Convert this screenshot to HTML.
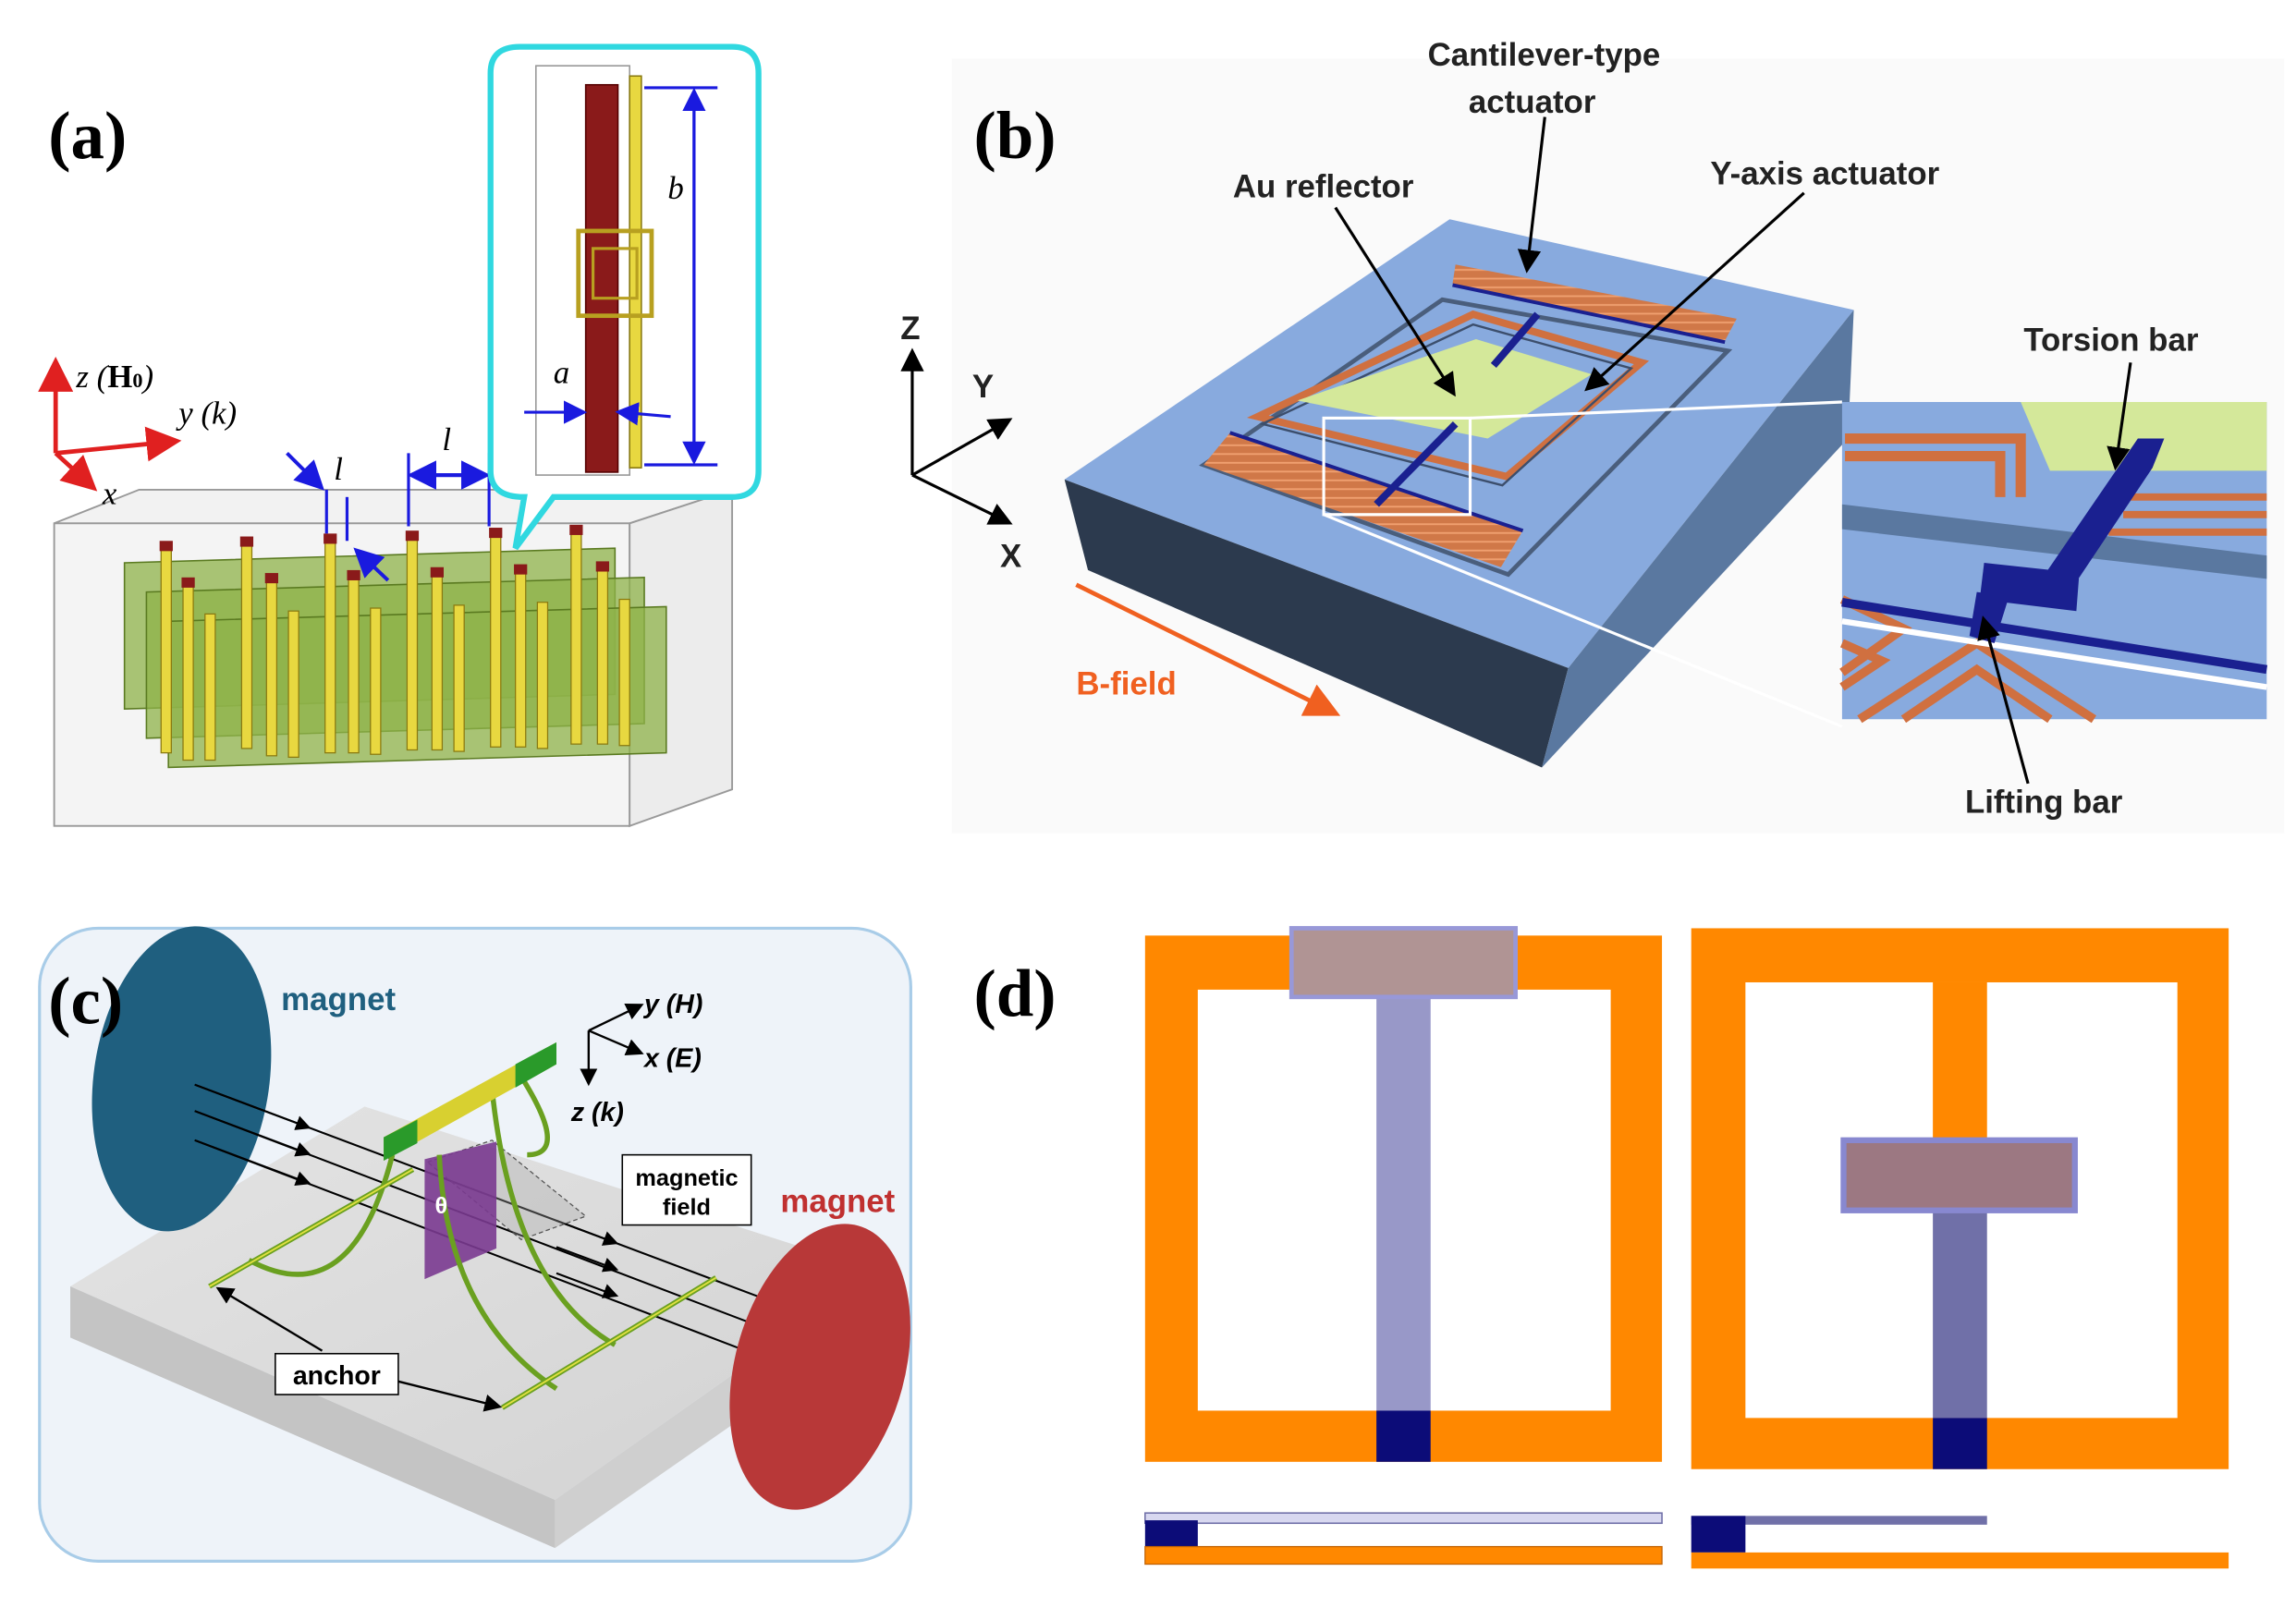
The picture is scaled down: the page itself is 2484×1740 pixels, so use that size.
<!DOCTYPE html>
<html><head><meta charset="utf-8"><style>
html,body{margin:0;padding:0;background:#fff;}
svg{display:block}
.lb{font-family:"Liberation Serif",serif;font-weight:bold;font-size:46px}
.sa{font-family:"Liberation Sans",sans-serif;font-weight:bold}
.it{font-family:"Liberation Serif",serif;font-style:italic}
</style></head><body>
<svg width="2484" height="1740" viewBox="0 0 1568 1100" preserveAspectRatio="none" xmlns="http://www.w3.org/2000/svg">
<defs>
<marker id="ab" markerWidth="8" markerHeight="8" refX="6" refY="4" orient="auto"><path d="M0,0 L8,4 L0,8 z" fill="#1a1adf"/></marker>
<marker id="ar" markerWidth="8" markerHeight="8" refX="6" refY="4" orient="auto"><path d="M0,0 L8,4 L0,8 z" fill="#e02020"/></marker>
<marker id="ak" markerWidth="8" markerHeight="8" refX="6" refY="4" orient="auto"><path d="M0,0 L8,4 L0,8 z" fill="#000"/></marker>
<marker id="ao" markerWidth="8" markerHeight="8" refX="6" refY="4" orient="auto"><path d="M0,0 L8,4 L0,8 z" fill="#f06020"/></marker>
<linearGradient id="gs" x1="0" y1="0" x2="1" y2="1"><stop offset="0" stop-color="#e4e4e4"/><stop offset="1" stop-color="#d2d2d2"/></linearGradient>
<pattern id="coil" width="6" height="6" patternUnits="userSpaceOnUse"><rect width="6" height="6" fill="#d07848"/><rect y="4" width="6" height="1.2" fill="#f0a070"/></pattern>
</defs>

<!-- (a) -->
<text x="33" y="108" class="lb">(a)</text>
<g stroke="#999" fill="none" stroke-width="1.2">
<polygon points="37,358 95,335 500,335 430,358" fill="#f2f2f2"/>
<rect x="37" y="358" width="393" height="207" fill="#f4f4f4"/>
<polygon points="430,358 500,335 500,540 430,565" fill="#ececec"/>
</g>
<g fill="#8fb34a" fill-opacity="0.75" stroke="#5a7a20">
<polygon points="85,385 420,375 420,475 85,485"/>
<polygon points="100,405 440,395 440,495 100,505"/>
<polygon points="115,425 455,415 455,515 115,525"/>
</g>
<g fill="#e8d840" stroke="#8a7a10" stroke-width="0.8">
<rect x="110" y="375" width="7" height="140"/><rect x="165" y="372" width="7" height="140"/><rect x="222" y="370" width="7" height="145"/><rect x="278" y="368" width="7" height="145"/><rect x="335" y="366" width="7" height="145"/><rect x="390" y="364" width="7" height="145"/>
<rect x="125" y="400" width="7" height="120"/><rect x="182" y="397" width="7" height="120"/><rect x="238" y="395" width="7" height="120"/><rect x="295" y="393" width="7" height="120"/><rect x="352" y="391" width="7" height="120"/><rect x="408" y="389" width="7" height="120"/>
<rect x="140" y="420" width="7" height="100"/><rect x="197" y="418" width="7" height="100"/><rect x="253" y="416" width="7" height="100"/><rect x="310" y="414" width="7" height="100"/><rect x="367" y="412" width="7" height="100"/><rect x="423" y="410" width="7" height="100"/>
</g>
<g fill="#8a1a1a">
<rect x="109" y="370" width="9" height="7"/><rect x="164" y="367" width="9" height="7"/><rect x="221" y="365" width="9" height="7"/><rect x="277" y="363" width="9" height="7"/><rect x="334" y="361" width="9" height="7"/><rect x="389" y="359" width="9" height="7"/>
<rect x="124" y="395" width="9" height="7"/><rect x="181" y="392" width="9" height="7"/><rect x="237" y="390" width="9" height="7"/><rect x="294" y="388" width="9" height="7"/><rect x="351" y="386" width="9" height="7"/><rect x="407" y="384" width="9" height="7"/>
</g>
<line x1="38" y1="310" x2="38" y2="250" stroke="#e02020" stroke-width="3" marker-end="url(#ar)"/>
<line x1="38" y1="310" x2="118" y2="302" stroke="#e02020" stroke-width="3" marker-end="url(#ar)"/>
<line x1="38" y1="310" x2="62" y2="332" stroke="#e02020" stroke-width="3" marker-end="url(#ar)"/>
<text x="52" y="265" class="it" font-size="22">z (<tspan font-weight="bold" font-style="normal">H</tspan><tspan font-size="14" font-weight="bold" font-style="normal">0</tspan>)</text>
<text x="122" y="290" class="it" font-size="22">y (k)</text>
<text x="70" y="345" class="it" font-size="22">x</text>
<line x1="196" y1="310" x2="218" y2="332" stroke="#1a1adf" stroke-width="2.5" marker-end="url(#ab)"/>
<line x1="223" y1="335" x2="223" y2="365" stroke="#1a1adf" stroke-width="2"/>
<line x1="237" y1="340" x2="237" y2="370" stroke="#1a1adf" stroke-width="2"/>
<line x1="265" y1="397" x2="245" y2="378" stroke="#1a1adf" stroke-width="2.5" marker-end="url(#ab)"/>
<text x="228" y="328" class="it" font-size="22">l</text>
<line x1="279" y1="310" x2="279" y2="360" stroke="#1a1adf" stroke-width="2"/>
<line x1="334" y1="310" x2="334" y2="360" stroke="#1a1adf" stroke-width="2"/>
<line x1="283" y1="325" x2="330" y2="325" stroke="#1a1adf" stroke-width="2.5" marker-end="url(#ab)"/>
<line x1="330" y1="325" x2="283" y2="325" stroke="#1a1adf" stroke-width="2.5" marker-end="url(#ab)"/>
<text x="302" y="308" class="it" font-size="22">l</text>
<path d="M355,32 H500 Q518,32 518,50 V322 Q518,340 500,340 H378 L352,375 L358,340 Q335,340 335,322 V50 Q335,32 355,32 Z" fill="#fff" stroke="#30d8e0" stroke-width="4"/>
<polygon points="366,45 430,45 430,325 366,325" fill="none" stroke="#999"/>
<rect x="400" y="58" width="22" height="265" fill="#8a1a1a" stroke="#500"/>
<rect x="430" y="52" width="8" height="268" fill="#e8d840" stroke="#8a7a10"/>
<rect x="395" y="158" width="50" height="58" fill="none" stroke="#b8a020" stroke-width="3"/>
<rect x="405" y="170" width="30" height="34" fill="none" stroke="#b8a020" stroke-width="2"/>
<line x1="440" y1="60" x2="490" y2="60" stroke="#1a1adf" stroke-width="2"/>
<line x1="440" y1="318" x2="490" y2="318" stroke="#1a1adf" stroke-width="2"/>
<line x1="474" y1="64" x2="474" y2="314" stroke="#1a1adf" stroke-width="2" marker-end="url(#ab)"/>
<line x1="474" y1="314" x2="474" y2="64" stroke="#1a1adf" stroke-width="2" marker-end="url(#ab)"/>
<text x="456" y="136" class="it" font-size="22">b</text>
<line x1="358" y1="282" x2="397" y2="282" stroke="#1a1adf" stroke-width="2" marker-end="url(#ab)"/>
<line x1="458" y1="285" x2="424" y2="282" stroke="#1a1adf" stroke-width="2" marker-end="url(#ab)"/>
<text x="378" y="262" class="it" font-size="22">a</text>

<!-- (b) -->
<rect x="650" y="40" width="910" height="530" fill="#fafafa"/>
<text x="665" y="108" class="lb">(b)</text>
<polygon points="727,328 990,150 1266,212 1071,457" fill="#88aade"/>
<polygon points="727,328 1071,457 1053,525 743,390" fill="#2c3a4e"/>
<polygon points="1071,457 1266,212 1262,300 1053,525" fill="#5a78a0"/>
<polygon points="822,318 985,205 1180,240 1030,393" fill="none" stroke="#4a5e7c" stroke-width="3"/>
<polygon points="859,285 1006,215 1121,248 1029,326" fill="none" stroke="#d07040" stroke-width="5"/>
<polygon points="862,290 1006,222 1114,252 1026,332" fill="none" stroke="#3c4e6c" stroke-width="1.5"/>
<polygon points="886,274 1008,232 1087,256 1016,300" fill="#d4e89a"/>
<polygon points="994,181 1186,218 1178,233 992,194" fill="url(#coil)"/>
<line x1="992" y1="195" x2="1178" y2="234" stroke="#1a2090" stroke-width="2.5"/>
<polygon points="840,296 1040,363 1025,388 822,318" fill="url(#coil)"/>
<line x1="840" y1="296" x2="1040" y2="363" stroke="#1a2090" stroke-width="2.5"/>
<line x1="1050" y1="215" x2="1020" y2="250" stroke="#1a2090" stroke-width="5"/>
<line x1="994" y1="290" x2="940" y2="345" stroke="#1a2090" stroke-width="5"/>
<rect x="904" y="286" width="100" height="66" fill="none" stroke="#fff" stroke-width="2"/>
<line x1="1004" y1="286" x2="1258" y2="275" stroke="#fff" stroke-width="2"/>
<line x1="904" y1="352" x2="1258" y2="497" stroke="#fff" stroke-width="2"/>
<rect x="1258" y="275" width="290" height="217" fill="#88aade"/>
<polygon points="1380,275 1548,275 1548,322 1400,322" fill="#d4e89a"/>
<path d="M1260,300 H1380 V340 M1260,312 H1366 V340" stroke="#d07040" stroke-width="7" fill="none"/>
<path d="M1440,340 H1548 M1450,352 H1548 M1440,364 H1548" stroke="#d07040" stroke-width="5" fill="none"/>
<polygon points="1258,345 1548,380 1548,396 1258,362" fill="#5a78a0"/>
<path d="M1258,410 L1300,430 L1258,460 M1258,440 L1285,452 L1258,470" stroke="#d07040" stroke-width="6" fill="none"/>
<path d="M1270,492 L1350,440 L1430,492 M1300,492 L1350,458 L1400,492" stroke="#d07040" stroke-width="6" fill="none"/>
<line x1="1258" y1="425" x2="1548" y2="470" stroke="#fff" stroke-width="4"/>
<line x1="1258" y1="412" x2="1548" y2="458" stroke="#1a2090" stroke-width="6"/>
<polygon points="1460,300 1478,300 1470,320 1420,395 1395,395" fill="#1a2090"/>
<polygon points="1355,385 1420,392 1418,418 1352,410" fill="#1a2090"/>
<polygon points="1350,405 1372,408 1362,440 1345,435" fill="#1a2090"/>
<g class="sa" font-size="22" fill="#222">
<text x="975" y="45">Cantilever-type</text><text x="1003" y="77">actuator</text>
<text x="842" y="135">Au reflector</text>
<text x="1168" y="126">Y-axis actuator</text>
<text x="1382" y="240">Torsion bar</text>
<text x="1342" y="556">Lifting bar</text>
<text x="615" y="232">Z</text><text x="664" y="272">Y</text><text x="683" y="388">X</text>
</g>
<text x="735" y="475" class="sa" font-size="22" fill="#f06020">B-field</text>
<line x1="735" y1="400" x2="910" y2="487" stroke="#f06020" stroke-width="3" marker-end="url(#ao)"/>
<g stroke="#000" stroke-width="2" fill="none">
<line x1="1055" y1="80" x2="1043" y2="183" marker-end="url(#ak)"/>
<line x1="912" y1="142" x2="992" y2="268" marker-end="url(#ak)"/>
<line x1="1232" y1="132" x2="1085" y2="265" marker-end="url(#ak)"/>
<line x1="1455" y1="248" x2="1445" y2="318" marker-end="url(#ak)"/>
<line x1="1385" y1="536" x2="1355" y2="425" marker-end="url(#ak)"/>
<line x1="623" y1="325" x2="623" y2="242" marker-end="url(#ak)"/>
<line x1="623" y1="325" x2="688" y2="288" marker-end="url(#ak)"/>
<line x1="623" y1="325" x2="688" y2="357" marker-end="url(#ak)"/>
</g>

<!-- (c) -->
<rect x="27" y="635" width="595" height="433" rx="40" fill="#eef3f9" stroke="#a8cce8" stroke-width="2"/>
<polygon points="48,880 249,757 600,870 379,1026" fill="url(#gs)"/>
<polygon points="48,880 379,1026 379,1059 48,915" fill="#c4c4c4"/>
<polygon points="379,1026 600,870 600,905 379,1059" fill="#cfcfcf"/>
<ellipse cx="124" cy="738" rx="60" ry="105" transform="rotate(8 124 738)" fill="#1f5f7f"/>
<g stroke="#000" stroke-width="1.3" fill="none">
<line x1="133" y1="742" x2="518" y2="887"/>
<line x1="133" y1="760" x2="510" y2="904"/>
<line x1="133" y1="780" x2="504" y2="922"/>
<line x1="133" y1="742" x2="210" y2="771" marker-end="url(#ak)"/>
<line x1="133" y1="760" x2="210" y2="789" marker-end="url(#ak)"/>
<line x1="133" y1="780" x2="210" y2="809" marker-end="url(#ak)"/>
<line x1="380" y1="835" x2="420" y2="850" marker-end="url(#ak)"/>
<line x1="380" y1="853" x2="420" y2="868" marker-end="url(#ak)"/>
<line x1="380" y1="871" x2="420" y2="886" marker-end="url(#ak)"/>
</g>
<polygon points="292,795 336,780 400,832 356,848" fill="#aaaaaa" fill-opacity="0.35" stroke="#555" stroke-dasharray="3,2" stroke-width="0.8"/>
<polygon points="290,793 339,781 339,854 290,875" fill="#7a3a90" fill-opacity="0.9"/>
<g stroke="#6aa020" stroke-width="3.5" fill="none">
<line x1="143" y1="880" x2="282" y2="800"/>
<line x1="343" y1="963" x2="489" y2="874"/>
<path d="M170,862 Q240,900 268,790"/>
<path d="M300,790 Q305,900 380,950"/>
<path d="M336,745 Q350,880 420,920"/>
<path d="M355,735 Q390,790 360,790"/>
</g>
<g stroke="#e0e040" stroke-width="1.2" fill="none">
<line x1="143" y1="880" x2="282" y2="800"/>
<line x1="343" y1="963" x2="489" y2="874"/>
</g>
<polygon points="262,778 380,713 380,728 262,794" fill="#d8d030"/>
<polygon points="262,778 285,766 285,782 262,794" fill="#2a9a2a"/>
<polygon points="352,728 380,713 380,728 352,744" fill="#2a9a2a"/>
<ellipse cx="560" cy="935" rx="58" ry="100" transform="rotate(15 560 935)" fill="#b83838"/>
<text x="192" y="691" class="sa" font-size="22" fill="#1f5f7f">magnet</text>
<text x="533" y="829" class="sa" font-size="22" fill="#c03030">magnet</text>
<text x="33" y="700" class="lb">(c)</text>
<g stroke="#000" stroke-width="1.5" fill="none">
<line x1="402" y1="705" x2="402" y2="740" marker-end="url(#ak)"/>
<line x1="402" y1="705" x2="437" y2="688" marker-end="url(#ak)"/>
<line x1="402" y1="705" x2="437" y2="720" marker-end="url(#ak)"/>
<line x1="220" y1="924" x2="150" y2="882" marker-end="url(#ak)"/>
<line x1="272" y1="945" x2="340" y2="962" marker-end="url(#ak)"/>
</g>
<text x="440" y="693" class="sa" font-size="18" font-style="italic">y (H)</text>
<text x="440" y="730" class="sa" font-size="18" font-style="italic">x (E)</text>
<text x="390" y="767" class="sa" font-size="18" font-style="italic">z (k)</text>
<text x="297" y="830" class="sa" font-size="16" fill="#fff">θ</text>
<rect x="425" y="790" width="88" height="48" fill="#fff" stroke="#000"/>
<text x="469" y="811" class="sa" font-size="16" text-anchor="middle">magnetic</text>
<text x="469" y="831" class="sa" font-size="16" text-anchor="middle">field</text>
<rect x="188" y="926" width="84" height="28" fill="#fff" stroke="#000"/>
<text x="230" y="947" class="sa" font-size="18" text-anchor="middle">anchor</text>

<!-- (d) -->
<text x="665" y="695" class="lb">(d)</text>
<rect x="782" y="640" width="353" height="360" fill="#ff8800"/>
<rect x="818" y="677" width="282" height="288" fill="#fff"/>
<rect x="940" y="682" width="37" height="283" fill="#9898c8"/>
<rect x="940" y="965" width="37" height="35" fill="#0c0c78"/>
<rect x="882" y="635" width="153" height="47" fill="#b09494" stroke="#9898d8" stroke-width="3"/>
<rect x="1155" y="635" width="367" height="370" fill="#ff8800"/>
<rect x="1192" y="672" width="295" height="298" fill="#fff"/>
<rect x="1320" y="672" width="37" height="110" fill="#ff8800"/>
<rect x="1320" y="828" width="37" height="142" fill="#7070a8"/>
<rect x="1320" y="970" width="37" height="35" fill="#0c0c78"/>
<rect x="1259" y="780" width="158" height="48" fill="#9c7882" stroke="#8888d0" stroke-width="4"/>
<rect x="782" y="1035" width="353" height="7" fill="#d8d8f0" stroke="#7070a8"/>
<rect x="782" y="1040" width="36" height="18" fill="#0c0c78"/>
<rect x="782" y="1058" width="353" height="12" fill="#ff8800" stroke="#c06000" stroke-width="0.8"/>
<rect x="1155" y="1037" width="202" height="6" fill="#7070a8"/>
<rect x="1155" y="1037" width="37" height="25" fill="#0c0c78"/>
<rect x="1155" y="1062" width="367" height="11" fill="#ff8800"/>
</svg>
</body></html>
